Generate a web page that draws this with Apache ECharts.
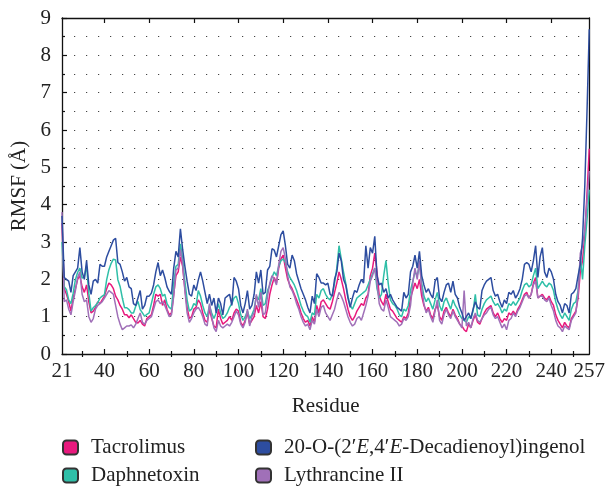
<!DOCTYPE html>
<html>
<head>
<meta charset="utf-8">
<script src="https://cdn.jsdelivr.net/npm/echarts@6/dist/echarts.min.js"></script>
<style>html,body{margin:0;padding:0;background:#fff;}#c{width:608px;height:489px;}</style>
</head>
<body>
<div id="c"></div>
<script>
const firstResidue = 21, lastResidue = 257;
const residues = [];
for (let r = firstResidue; r <= lastResidue; r++) residues.push(r);

const xLabelValues = [21, 40, 60, 80, 100, 120, 140, 160, 180, 200, 220, 240, 257];
const xMajorTicks = [40, 60, 80, 100, 120, 140, 160, 180, 200, 220, 240];
const xMinorTicks = [30, 50, 70, 90, 110, 130, 150, 170, 190, 210, 230, 250];

const seriesNames = ['Tacrolimus', 'Daphnetoxin', '20-O-(2′E,4′E-Decadienoyl)ingenol', 'Lythrancine II'];

const tacrolimus = [
3.5,1.75,1.6,1.4,1.15,1.5,1.75,2.0,2.1,1.8,
1.65,1.85,1.4,1.1,1.15,1.25,1.4,1.35,1.45,1.55,
1.75,1.9,1.85,1.75,1.55,1.45,1.3,1.2,1.05,1.05,
0.97,1.05,0.95,0.85,0.83,0.9,0.8,0.75,0.95,1.0,
1.05,1.3,1.6,1.55,1.6,1.3,1.45,1.2,1.05,1.1,
1.6,2.1,2.2,2.6,2.35,1.75,1.25,0.95,1.0,1.2,
1.25,1.45,1.35,1.1,0.9,0.85,1.2,0.95,0.75,0.7,
1.2,0.95,0.8,0.85,0.9,1.0,0.9,1.1,1.2,1.15,
0.85,0.75,0.9,1.1,0.8,0.9,1.0,1.3,1.1,1.4,
1.0,0.95,1.2,1.6,1.85,2.05,1.9,2.3,2.55,2.65,
2.3,2.0,1.85,1.75,1.6,1.45,1.3,1.1,0.95,0.85,
0.9,0.75,1.0,0.85,1.3,1.1,1.4,1.45,1.35,1.25,
1.2,1.4,1.65,1.9,2.2,2.0,1.75,1.45,1.2,1.0,
0.9,1.0,1.15,1.25,1.35,1.3,1.5,1.6,2.1,2.3,
2.7,2.2,1.55,1.4,1.3,1.6,1.4,1.2,1.15,1.05,
0.95,0.9,0.85,1.0,0.95,1.1,1.5,1.7,1.9,1.75,
2.0,1.55,1.3,1.15,1.25,1.05,0.95,1.2,1.3,1.0,
0.9,1.15,1.25,1.1,1.0,1.2,1.05,0.95,0.8,0.75,
0.65,0.6,0.8,0.7,0.9,1.05,0.85,0.8,0.95,1.1,
1.2,1.25,1.3,1.1,1.0,1.1,0.95,0.85,0.95,0.9,
1.1,1.05,1.15,1.05,1.2,1.3,1.45,1.6,1.65,1.5,
1.6,1.9,2.05,1.5,1.55,1.6,1.5,1.45,1.55,1.4,
1.3,1.05,0.9,0.8,0.7,0.85,0.75,0.7,0.95,1.05,
1.15,1.5,2.2,2.5,3.2,4.3,5.5
];

const daphnetoxin = [
3.0,1.8,1.72,1.45,1.35,1.63,1.99,2.19,2.3,2.03,
2.08,2.35,1.63,1.15,1.24,1.3,1.37,1.5,1.55,1.59,
1.99,2.26,2.43,2.54,2.52,1.99,1.81,1.5,1.24,1.24,
1.19,1.1,1.1,1.28,1.41,1.19,1.1,1.01,1.06,1.1,
1.35,1.6,1.8,1.85,1.75,1.55,1.6,1.35,1.25,1.2,
1.9,2.35,2.4,2.95,2.55,1.95,1.45,1.15,1.2,1.35,
1.3,1.7,1.55,1.3,1.1,1.0,1.3,1.1,0.95,1.1,
1.35,1.1,0.95,1.0,1.1,1.25,1.35,1.5,1.55,1.35,
1.05,0.9,1.0,1.15,0.95,1.05,1.2,1.55,1.45,1.75,
1.3,1.35,1.7,1.85,2.05,2.2,2.1,2.35,2.5,2.55,
2.45,2.2,2.05,1.95,1.85,1.7,1.5,1.3,1.15,1.05,
1.0,0.85,1.1,1.05,1.6,1.5,1.7,1.75,1.6,1.5,
1.45,1.6,1.9,2.3,2.9,2.55,2.2,1.9,1.55,1.3,
1.2,1.35,1.5,1.55,1.6,1.65,1.7,1.85,2.0,2.15,
2.3,1.75,1.5,1.6,2.1,2.5,1.9,1.45,1.35,1.3,
1.2,1.05,1.0,1.2,1.15,1.3,1.7,1.95,2.2,2.1,
2.4,1.9,1.55,1.4,1.5,1.35,1.2,1.45,1.65,1.3,
1.15,1.4,1.5,1.35,1.2,1.45,1.3,1.2,1.05,0.95,
0.9,0.85,1.0,0.95,1.15,1.6,1.05,1.0,1.2,1.35,
1.45,1.5,1.55,1.4,1.3,1.35,1.25,1.1,1.2,1.15,
1.35,1.3,1.4,1.3,1.4,1.5,1.7,1.85,1.9,1.8,
1.85,2.1,2.3,1.75,1.85,1.95,1.85,1.8,1.9,1.85,
1.7,1.4,1.2,1.05,0.95,1.1,1.0,0.9,1.2,1.35,
1.4,1.7,2.6,2.0,2.9,3.6,4.4
];

const ingenol = [
3.7,2.05,2.0,1.95,1.65,2.1,2.2,2.3,2.85,2.2,
2.0,2.5,1.85,1.6,1.95,2.0,1.9,2.4,2.35,2.35,
2.6,2.75,2.9,3.05,3.1,2.45,2.4,2.2,1.95,2.05,
1.8,1.75,1.35,1.3,1.5,1.7,1.2,1.3,1.55,1.55,
1.63,1.85,2.2,2.45,2.1,2.25,2.05,1.8,1.68,1.6,
2.3,2.75,2.6,3.35,2.8,2.35,1.95,1.6,1.55,1.85,
1.7,1.98,2.2,1.95,1.65,1.35,1.6,1.3,1.5,1.1,
1.5,1.35,1.05,1.5,1.55,1.6,1.3,2.05,1.95,1.75,
1.3,1.1,1.35,1.7,1.2,1.3,1.6,2.2,1.9,2.25,
1.6,1.65,2.25,2.35,2.82,2.78,2.6,2.9,3.2,3.3,
2.9,2.4,2.3,2.65,2.5,2.15,1.95,1.75,1.6,1.45,
1.25,1.1,1.55,1.35,2.15,2.05,1.9,1.9,1.85,1.9,
1.6,1.55,2.0,2.2,2.7,2.5,2.0,1.85,1.5,1.25,
1.5,1.7,1.65,1.85,2.0,1.9,2.9,2.3,2.85,2.7,
3.15,2.1,1.85,1.9,1.65,1.75,1.5,1.6,1.45,1.35,
1.25,1.2,1.15,1.65,1.5,1.6,2.2,2.35,2.65,2.3,
2.75,2.1,1.85,1.65,1.75,1.6,1.5,1.95,2.05,1.5,
1.4,1.65,1.85,1.9,1.65,1.95,1.6,1.5,1.25,1.1,
0.9,1.0,1.1,0.95,1.2,1.4,1.25,1.2,1.7,1.85,
1.95,2.0,2.05,1.7,1.55,1.6,1.4,1.25,1.45,1.35,
1.65,1.6,1.7,1.5,1.6,1.75,2.0,2.4,2.45,2.4,
2.2,2.5,2.9,2.05,2.6,2.85,2.2,2.05,2.3,2.2,
2.0,1.6,1.4,1.3,1.1,1.35,1.3,1.1,1.6,1.65,
1.75,2.1,2.4,3.1,4.5,6.5,8.7
];

const lythrancine = [
3.8,1.4,1.45,1.2,1.05,1.4,1.7,2.05,2.2,1.6,
1.4,1.45,1.0,0.85,0.95,1.2,1.3,1.35,1.4,1.5,
1.6,1.7,1.65,1.6,1.3,1.0,0.8,0.65,0.7,0.75,
0.75,0.78,0.7,0.8,0.95,1.1,0.85,0.8,0.9,0.95,
1.0,1.2,1.4,1.45,1.35,1.4,1.3,1.15,1.0,1.05,
1.55,2.25,2.3,2.8,2.4,1.7,1.1,0.85,0.95,1.1,
1.2,1.25,1.15,1.0,0.8,0.75,1.35,1.0,0.7,0.6,
0.9,0.75,0.7,0.75,0.8,0.75,0.85,1.0,1.15,1.05,
0.8,0.7,0.85,1.2,0.75,1.0,1.1,1.6,1.25,1.65,
1.05,1.1,1.55,1.9,2.1,2.0,1.85,2.4,2.75,2.85,
2.55,2.1,1.8,1.7,1.55,1.35,1.2,1.0,0.85,0.75,
0.8,0.65,0.9,0.8,1.2,1.0,1.25,1.3,1.1,1.0,
0.9,1.05,1.2,1.45,1.65,1.55,1.4,1.2,1.0,0.85,
0.75,0.8,0.95,1.0,0.9,1.1,1.3,1.55,1.95,2.1,
2.3,1.9,1.35,1.2,1.15,1.45,1.25,1.0,0.95,0.9,
0.85,0.75,0.8,0.95,0.9,1.0,1.3,1.9,2.3,2.0,
2.5,1.75,1.35,1.1,1.2,1.0,0.85,1.15,1.45,0.9,
0.8,1.05,1.2,1.05,0.95,1.15,1.0,0.9,0.8,0.7,
1.7,0.75,0.85,0.7,0.95,1.1,0.9,0.85,0.95,1.05,
1.1,1.2,1.25,1.05,0.95,1.0,0.85,0.7,0.8,0.65,
0.9,0.95,1.1,1.0,1.15,1.25,1.4,1.55,1.6,1.5,
1.6,1.85,1.95,1.5,1.55,1.55,1.45,1.4,1.5,1.3,
1.15,0.9,0.75,0.7,0.6,0.75,0.7,0.65,0.9,1.0,
1.1,1.6,2.7,2.9,3.3,4.1,4.9
];

const colors = {
  tac: '#E8197D',
  daph: '#2FBFA8',
  ing: '#2D4DA0',
  lyth: '#A070B8'
};

const FONT = '"Liberation Serif", "DejaVu Serif", serif';
const FS = 21;
const pairs = arr => residues.map((r, i) => [r, arr[i]]);

const chart = echarts.init(document.getElementById('c'), null, {renderer: 'canvas'});

const dotLine = {color: '#444', width: 1.2, type: [1.2, 10.8], dashOffset: 0};

const richLegend = {
  i: {fontStyle: 'italic', fontFamily: FONT, fontSize: FS, color: '#222'}
};
function legendFmt(name) {
  if (name === seriesNames[2]) return '20-O-(2′{i|E},4′{i|E}-Decadienoyl)ingenol';
  return name;
}
function makeLegend(name, left, top) {
  return {
    orient: 'horizontal',
    left: left, top: top,
    itemWidth: 15,
    itemHeight: 14,
    icon: 'roundRect',
    formatter: legendFmt,
    textStyle: {fontFamily: FONT, fontSize: FS, color: '#222', padding: [0, 0, 0, 8], rich: richLegend},
    selectedMode: false,
    padding: 0,
    data: [name]
  };
}

chart.setOption({
  animation: false,
  color: [colors.tac, colors.daph, colors.lyth, colors.ing],
  legend: [
    makeLegend(seriesNames[0], 62, 437),
    makeLegend(seriesNames[1], 62, 465),
    makeLegend(seriesNames[2], 255, 437),
    makeLegend(seriesNames[3], 255, 465)
  ],
  grid: {left: 62, right: 16, top: 18, bottom: 135, containLabel: false},
  xAxis: [
    {
      type: 'value', min: firstResidue, max: lastResidue, position: 'bottom',
      name: 'Residue', nameLocation: 'middle', nameGap: 42,
      nameTextStyle: {fontFamily: FONT, fontSize: FS, color: '#222'},
      axisLine: {show: true, onZero: false, lineStyle: {color: '#111', width: 1.3}},
      axisTick: {show: true, inside: true, length: 5, customValues: xMajorTicks, lineStyle: {color: '#111', width: 1.2}},
      axisLabel: {show: true, customValues: xLabelValues, margin: 7, fontFamily: FONT, fontSize: FS, color: '#222'},
      splitLine: {show: false}
    },
    {
      type: 'value', min: firstResidue, max: lastResidue, position: 'bottom',
      axisLine: {show: false},
      axisTick: {show: true, inside: true, length: 3, customValues: xMinorTicks, lineStyle: {color: '#111', width: 1.2}},
      axisLabel: {show: false},
      splitLine: {show: false}
    },
    {
      type: 'value', min: firstResidue, max: lastResidue, position: 'top',
      axisLine: {show: true, onZero: false, lineStyle: {color: '#111', width: 1.3}},
      axisTick: {show: true, inside: true, length: 5, customValues: xMajorTicks, lineStyle: {color: '#111', width: 1.2}},
      axisLabel: {show: false},
      splitLine: {show: false}
    },
    {
      type: 'value', min: firstResidue, max: lastResidue, position: 'top',
      axisLine: {show: false},
      axisTick: {show: true, inside: true, length: 3, customValues: xMinorTicks, lineStyle: {color: '#111', width: 1.2}},
      axisLabel: {show: false},
      splitLine: {show: false}
    }
  ],
  yAxis: [
    {
      type: 'value', min: 0, max: 9, interval: 1, position: 'left',
      name: 'RMSF (Å)', nameLocation: 'middle', nameGap: 29, nameRotate: 90,
      nameTextStyle: {fontFamily: FONT, fontSize: FS, color: '#222'},
      axisLine: {show: true, onZero: false, lineStyle: {color: '#111', width: 1.3}},
      axisTick: {show: true, inside: true, length: 5, lineStyle: {color: '#111', width: 1.2}},
      minorTick: {show: true, splitNumber: 2, length: 3, lineStyle: {color: '#111', width: 1.2}},
      axisLabel: {show: true, margin: 11, fontFamily: FONT, fontSize: FS, color: '#222'},
      splitLine: {show: true, lineStyle: dotLine},
      minorSplitLine: {show: true, lineStyle: dotLine}
    },
    {
      type: 'value', min: 0, max: 9, interval: 1, position: 'right',
      axisLine: {show: true, onZero: false, lineStyle: {color: '#111', width: 1.3}},
      axisTick: {show: false},
      axisLabel: {show: false},
      splitLine: {show: false}
    }
  ],
  series: [
    {name: seriesNames[0], type: 'line', data: pairs(tacrolimus), showSymbol: false, symbol: 'none',
     lineStyle: {width: 1.5, color: colors.tac}, itemStyle: {color: colors.tac, borderColor: '#333', borderWidth: 1}},
    {name: seriesNames[1], type: 'line', data: pairs(daphnetoxin), showSymbol: false, symbol: 'none',
     lineStyle: {width: 1.5, color: colors.daph}, itemStyle: {color: colors.daph, borderColor: '#333', borderWidth: 1}},
    {name: seriesNames[3], type: 'line', data: pairs(lythrancine), showSymbol: false, symbol: 'none',
     lineStyle: {width: 1.5, color: colors.lyth}, itemStyle: {color: colors.lyth, borderColor: '#333', borderWidth: 1}},
    {name: seriesNames[2], type: 'line', data: pairs(ingenol), showSymbol: false, symbol: 'none',
     lineStyle: {width: 1.5, color: colors.ing}, itemStyle: {color: colors.ing, borderColor: '#333', borderWidth: 1}}
  ]
});
</script>
</body>
</html>
